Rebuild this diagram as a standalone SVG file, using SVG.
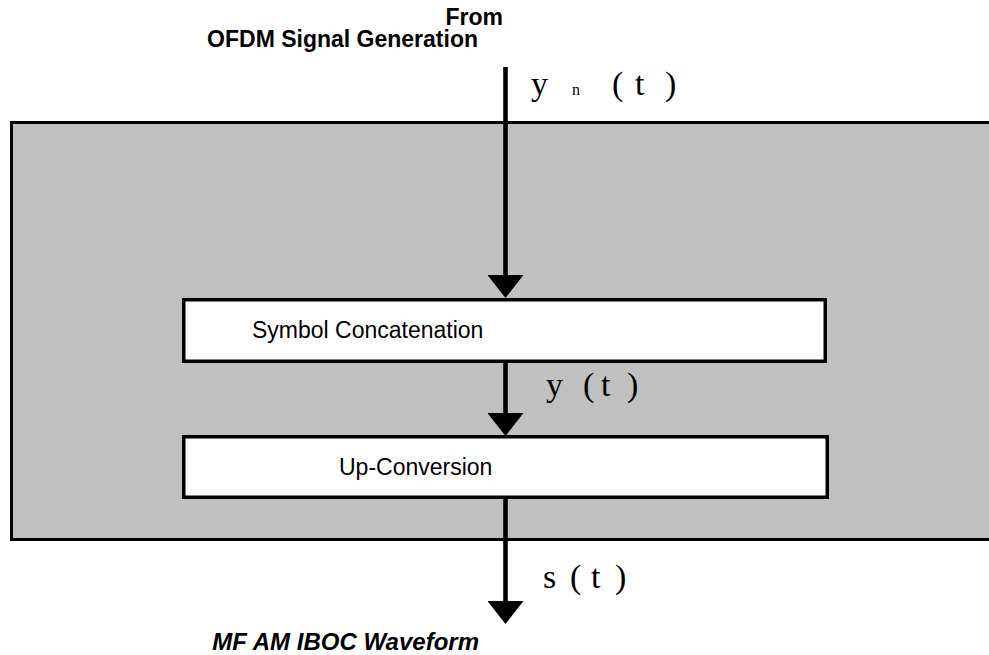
<svg xmlns="http://www.w3.org/2000/svg" width="989" height="655" viewBox="0 0 989 655">
<style>
.lbl{font-family:"Liberation Sans",Arial,sans-serif;font-size:23px;fill:#000}
.bold{font-weight:bold}
.ital{font-style:italic}
.math{font-family:"Liberation Serif","Times New Roman",serif;font-size:34px;fill:#000}
.sub{font-size:16px}
.box{fill:#fff;stroke:#000;stroke-width:3.5}
.conn{stroke:#000;stroke-width:4.6;fill:none}
</style>
<defs>
<marker id="arr" markerUnits="userSpaceOnUse" viewBox="0 0 23 36" markerWidth="23" markerHeight="36" refX="3" refY="18" orient="auto">
<path d="M0,0 L23,18 L0,36 Z" fill="#000"/>
</marker>
</defs>
<rect width="989" height="655" fill="#fff"/>
<g id="container">
<rect x="11.5" y="122.5" width="1100" height="417" fill="#c0c0c0" stroke="#000" stroke-width="3"/>
</g>
<g id="source">
<text class="lbl bold" x="503" y="25" text-anchor="end">From</text>
<text class="lbl bold" x="478" y="47" text-anchor="end">OFDM Signal Generation</text>
</g>
<g id="symbol-concatenation">
<rect class="box" x="183.75" y="299.75" width="641.5" height="61.5"/>
<text class="lbl" x="252" y="338">Symbol Concatenation</text>
</g>
<g id="up-conversion">
<rect class="box" x="183.75" y="436.75" width="643.5" height="60.5"/>
<text class="lbl" x="339" y="475">Up-Conversion</text>
</g>
<g id="output">
<text class="lbl bold ital" x="479" y="650" text-anchor="end" style="font-size:24px">MF AM IBOC Waveform</text>
</g>
<g id="connectors">
<line class="conn" x1="505.5" y1="67" x2="505.5" y2="278" marker-end="url(#arr)"/>
<line class="conn" x1="505.5" y1="363" x2="505.5" y2="416" marker-end="url(#arr)"/>
<line class="conn" x1="505.5" y1="499" x2="505.5" y2="604" marker-end="url(#arr)"/>
<g id="label-yn">
<text class="math" x="531" y="95">y</text>
<text class="math sub" x="572" y="95">n</text>
<text class="math" x="612" y="95">(</text>
<text class="math" x="635" y="95">t</text>
<text class="math" x="665" y="95">)</text>
</g>
<g id="label-y">
<text class="math" x="546" y="396">y</text>
<text class="math" x="583" y="396">(</text>
<text class="math" x="601" y="396">t</text>
<text class="math" x="627" y="396">)</text>
</g>
<g id="label-s">
<text class="math" x="543" y="588">s</text>
<text class="math" x="570" y="588">(</text>
<text class="math" x="591" y="588">t</text>
<text class="math" x="615" y="588">)</text>
</g>
</g>
</svg>
